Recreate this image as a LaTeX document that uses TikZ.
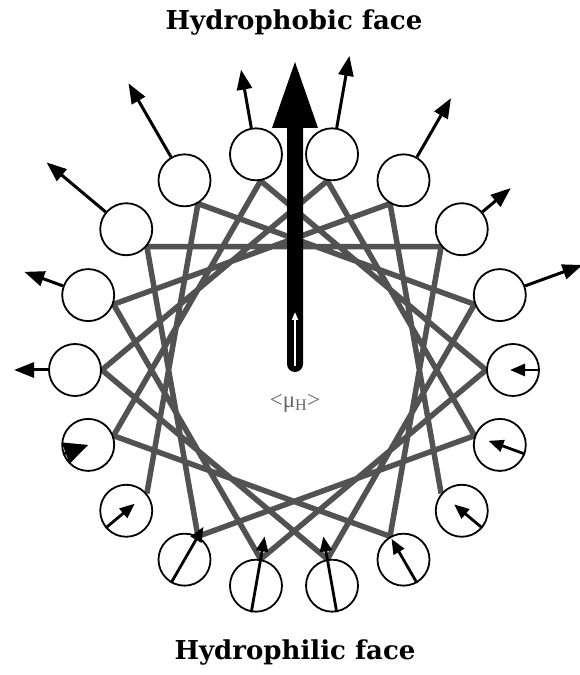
\documentclass[tikz,border=0pt]{standalone}
\usepackage{fontspec}
\newfontfamily\slabfont{DejaVu Serif}
\newfontfamily\labfont{Liberation Serif}
\usepackage{xcolor}
\definecolor{HelixGray}{HTML}{525252}
\definecolor{LabelGray}{HTML}{666666}
\usetikzlibrary{arrows.meta,backgrounds}
\tikzset{
  res/.style={circle,draw=black,line width=1.8pt,fill=white,minimum size=52pt,inner sep=0pt},
  helix/.style={draw=HelixGray,line width=5.5pt,line join=miter},
  vec/.style={-{Triangle[length=20pt,width=15pt]},line width=3pt},
  vecin/.style={-{Triangle[length=15pt,width=12pt]},line width=2.8pt},
  face/.style={font={\slabfont\bfseries\fontsize{26}{30}\selectfont}},
}

\begin{document}
\begin{tikzpicture}[x=1pt,y=1pt]
\useasboundingbox (0,0) rectangle (579,675);
\coordinate (C) at (294,305);
\foreach \k in {0,...,17}
  \node[res] (r\k) at ([shift={({20*\k}:219)}]C) {};

\begin{scope}[on background layer]
\draw[helix] (r16.140) \foreach \k/\a in {3/240,8/340,13/80,0/180,5/280,10/20,15/120,
  2/220,7/320,12/60,17/160,4/260,9/0,14/100,1/200,6/300,11/40} { -- (r\k.\a) };
\end{scope}

\foreach \k/\L [evaluate=\k as \a using int(20*\k)] in
  {1/88,2/64,3/95,4/100,5/86,6/112,7/104,8/68,9/61}
  \draw[vec] (r\k.\a) -- ([shift={(\a:{219+\L})}]C);
\foreach \k/\d [evaluate=\k as \a using int(20*\k)] in
  {0/3,17/12,16/10,15/24,14/50,13/50,12/38,11/11}
  \draw[vecin] (r\k.\a) -- ([shift={(\a:{219-\d})}]C);
\draw[vecin,-{Triangle[length=24pt,width=22pt]}] (r10.200) -- (r10.center);

\coordinate (mu) at (295,303);
\fill (287,547) -- (272,547) -- (295,613) -- (318,547) -- (303,547) -- (303,311)
  arc[start angle=0,end angle=-180,radius=8] -- cycle;
\draw[white,line width=2pt,-{Triangle[length=8pt,width=6pt]}] ([yshift=6pt]mu) -- ([yshift=60pt]mu);
\node[text=LabelGray,font={\labfont\fontsize{23}{25}\selectfont}] (mulbl) at (295,272)
  {<μ\textsubscript{H}>};

\node[face] (phob) at (294,652) {Hydrophobic face};
\node[face] (phil) at (295,22) {Hydrophilic face};
\end{tikzpicture}
\end{document}
